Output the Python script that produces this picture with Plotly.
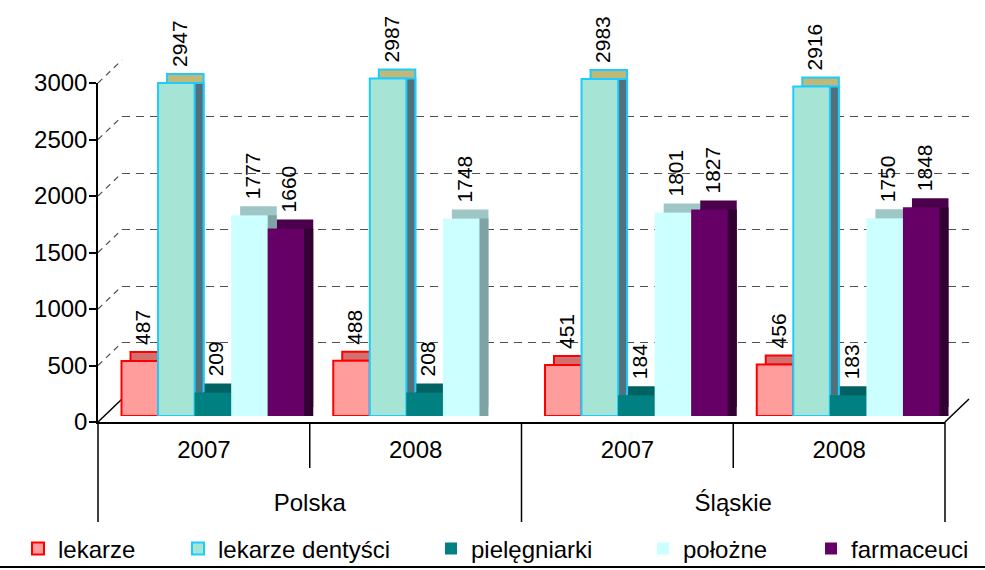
import plotly.graph_objects as go

# ---------------- data ----------------
regions = ["Polska", "Polska", "Śląskie", "Śląskie"]
years = ["2007", "2008", "2007", "2008"]
series_names = ["lekarze", "lekarze dentyści", "pielęgniarki", "położne", "farmaceuci"]
lekarze = [487, 488, 451, 456]
lekarze_dentysci = [2947, 2987, 2983, 2916]
pielegniarki = [209, 208, 184, 183]
polozne = [1777, 1748, 1801, 1750]
farmaceuci = [1660, None, 1827, 1848]
y_ticks = [0, 500, 1000, 1500, 2000, 2500, 3000]

series_values = [lekarze, lekarze_dentysci, pielegniarki, polozne, farmaceuci]

# ---------------- styles ----------------
front_colors = ["#FF9C9C", "#A6E4D6", "#008080", "#CCFFFF", "#660066"]
front_lines = ["#FF0000", "#1ECBFF", "#008080", "#CCFFFF", "#660066"]
front_lw = [2, 2, 0, 0, 0]
top_colors = ["#D27070", "#C0B878", "#006262", "#9FC6C6", "#4A004A"]
side_colors = ["#C00000", "#52707A", "#004E4E", "#7FA3A3", "#330033"]

FONT = "Liberation Sans, Arial, sans-serif"

W, H = 985, 570
ML, MR, MT, MB = 98, 10, 20, 148
PW = W - ML - MR
PH = H - MT - MB
PLOT_W, PLOT_H = 847, 339
YMAX = 3000


def xdom(off):
    return [off / PW, (PLOT_W + off) / PW]


def ydom(off):
    return [off / PH, (PLOT_H + off) / PH]


x_cat = [regions, years]
n_cat = len(years)
cat_range = [-0.5, n_cat - 0.5]
inner_pos = list(range(n_cat))
outer_labels = []
outer_pos = []
for r in dict.fromkeys(regions):
    idx = [i for i, rr in enumerate(regions) if rr == r]
    outer_labels.append(r)
    outer_pos.append(sum(idx) / len(idx))

fig = go.Figure()

# main axis carriers (empty)
fig.add_trace(go.Scatter(x=[], y=[], showlegend=False, hoverinfo="skip", xaxis="x", yaxis="y"))
fig.add_trace(go.Scatter(x=[], y=[], showlegend=False, hoverinfo="skip", xaxis="x7", yaxis="y"))

# layer offsets (px right, px up): 2 back wall grid, 3 top faces, 4 side faces, 5 fronts, 6 labels
layers = {2: (24, 23), 3: (18, 15), 4: (18, 6), 5: (9, 6), 6: (12, 19)}

# back wall carrier
fig.add_trace(go.Bar(x=x_cat, y=lekarze, opacity=0, marker=dict(line=dict(width=0)),
                     showlegend=False, hoverinfo="skip", xaxis="x2", yaxis="y2"))

legend_ids = ["legend", "legend2", "legend3", "legend4", "legend5"]

for i, name in enumerate(series_names):
    vals = series_values[i]
    # top faces
    fig.add_trace(go.Bar(x=x_cat, y=vals, name=name, showlegend=False, hoverinfo="skip",
                         marker=dict(color=top_colors[i],
                                     line=dict(color=front_lines[i] if front_lw[i] else top_colors[i],
                                               width=front_lw[i] if front_lw[i] else 0)),
                         xaxis="x3", yaxis="y3"))
    # side faces
    fig.add_trace(go.Bar(x=x_cat, y=vals, name=name, showlegend=False, hoverinfo="skip",
                         marker=dict(color=side_colors[i],
                                     line=dict(color=front_lines[i] if front_lw[i] else side_colors[i],
                                               width=front_lw[i] if front_lw[i] else 0)),
                         xaxis="x4", yaxis="y4"))
    # fronts
    fig.add_trace(go.Bar(x=x_cat, y=vals, name=name, legend=legend_ids[i],
                         marker=dict(color=front_colors[i],
                                     line=dict(color=front_lines[i], width=front_lw[i])),
                         xaxis="x5", yaxis="y5"))
    # labels
    fig.add_trace(go.Bar(x=x_cat, y=vals, name=name, showlegend=False, hoverinfo="skip",
                         marker=dict(color="rgba(0,0,0,0)", line=dict(width=0)),
                         text=[("" if v is None else str(v)) for v in vals],
                         textposition="outside", textangle=-90, cliponaxis=False,
                         constraintext="none",
                         textfont=dict(family=FONT, size=21, color="black"),
                         xaxis="x6", yaxis="y6"))

tickfont = dict(family=FONT, size=24, color="black")
layout = dict(
    width=W, height=H,
    margin=dict(l=ML, r=MR, t=MT, b=MB, pad=0, autoexpand=False),
    paper_bgcolor="white", plot_bgcolor="rgba(0,0,0,0)",
    barmode="group", bargap=0.137, bargroupgap=0,
    font=dict(family=FONT, size=24, color="black"),
    xaxis=dict(domain=xdom(0), anchor="y", range=cat_range,
               tickvals=inner_pos, ticktext=years,
               showline=True, linecolor="black", linewidth=1.5,
               ticks="", ticklabelstandoff=5, automargin=False,
               tickfont=tickfont, showgrid=False, zeroline=False),
    xaxis7=dict(domain=xdom(0), anchor="y", overlaying="x", side="bottom", range=cat_range,
                tickvals=outer_pos, ticktext=outer_labels,
                showline=False, ticks="", ticklabelstandoff=64, automargin=False,
                tickfont=tickfont, showgrid=False, zeroline=False),
    yaxis=dict(domain=ydom(0), anchor="x", range=[0, YMAX], tickvals=y_ticks,
               showline=True, linecolor="black", linewidth=1.5, automargin=False,
               ticks="outside", ticklen=7, tickwidth=1.5, tickcolor="black",
               ticklabelstandoff=-3,
               tickfont=tickfont, showgrid=False, zeroline=False),
)

for k, (dx, dy) in layers.items():
    layout[f"xaxis{k}"] = dict(domain=xdom(dx), anchor=f"y{k}", type="multicategory",
                               range=cat_range, visible=False)
    if k == 2:
        layout[f"yaxis{k}"] = dict(domain=ydom(dy), anchor=f"x{k}", range=[0, YMAX],
                                   tickvals=y_ticks, showticklabels=False, ticks="",
                                   showline=False, zeroline=False, showgrid=True,
                                   gridcolor="#505050", gridwidth=1.2, griddash="8px,6px")
    else:
        layout[f"yaxis{k}"] = dict(domain=ydom(dy), anchor=f"x{k}", range=[0, YMAX],
                                   visible=False)

# legends (one per series, positioned along the bottom row)
legend_text_left = [58, 218, 471, 683, 851]
for i, lid in enumerate(legend_ids):
    layout[lid] = dict(x=(legend_text_left[i] - 40 - ML) / PW, xanchor="left",
                       y=(422 - 549) / PH, yanchor="middle",
                       orientation="h", bgcolor="rgba(0,0,0,0)",
                       font=dict(family=FONT, size=24, color="black"),
                       itemclick=False, itemdoubleclick=False)

fig.update_layout(**layout)

# ---- 3D frame decorations (paper coordinates derived from pixel geometry) ----
BX, BY = layers[2]


def px_x(px):
    return (px - ML) / PW


def px_y(py):
    return (H - MB - py) / PH


def val_py(v):
    return (H - MB) - v * PLOT_H / YMAX


shapes = []
for v in y_ticks:
    py = val_py(v)
    solid = (v == 0)
    shapes.append(dict(type="line", xref="paper", yref="paper",
                       x0=px_x(ML), y0=px_y(py), x1=px_x(ML + BX), y1=px_y(py - BY),
                       line=dict(color="black" if solid else "#505050", width=1.5 if solid else 1.2,
                                 dash="solid" if solid else "6px,5px"),
                       layer="below"))
# right floor edge
shapes.append(dict(type="line", xref="paper", yref="paper",
                   x0=px_x(ML + PLOT_W), y0=px_y(val_py(0)),
                   x1=px_x(ML + PLOT_W + BX), y1=px_y(val_py(0) - BY),
                   line=dict(color="black", width=1.5), layer="below"))
# category boundary ticks (short) and group dividers (long)
for fx in [0.25, 0.75]:
    shapes.append(dict(type="line", xref="x domain", yref="paper",
                       x0=fx, x1=fx, y0=px_y(422), y1=px_y(468),
                       line=dict(color="black", width=1.5)))
for fx in [0.0, 0.5, 1.0]:
    shapes.append(dict(type="line", xref="x domain", yref="paper",
                       x0=fx, x1=fx, y0=px_y(422), y1=px_y(522),
                       line=dict(color="black", width=1.5)))
# bottom border line
shapes.append(dict(type="line", xref="paper", yref="paper",
                   x0=px_x(0), y0=px_y(567), x1=px_x(W), y1=px_y(567),
                   line=dict(color="black", width=2)))
fig.update_layout(shapes=shapes)

fig.write_html("out.html", config={"displayModeBar": False},
               post_script="document.body.style.margin='0';document.body.style.padding='0';")
